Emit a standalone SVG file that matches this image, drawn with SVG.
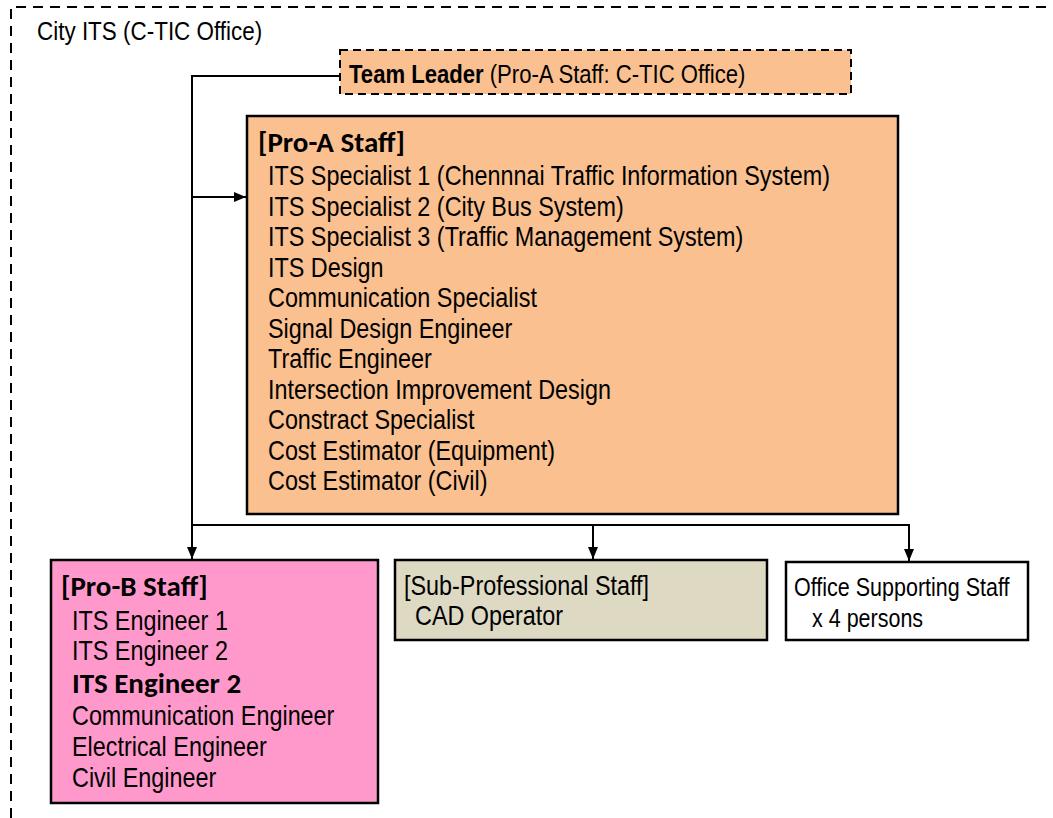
<svg xmlns="http://www.w3.org/2000/svg" width="1053" height="818" viewBox="0 0 1053 818">
<style>
.t{font-family:"Liberation Sans",Arial,sans-serif;fill:#000;font-size:27.5px}
.b{font-weight:bold}
.c{font-family:Carlito,"Open Sans","Liberation Sans",sans-serif;font-weight:bold;fill:#000;font-size:29px}
.box{stroke:#000;stroke-width:2.5}
.ln{fill:none;stroke:#000;stroke-width:2}
</style>
<defs>
<marker id="ah" markerUnits="userSpaceOnUse" markerWidth="12" markerHeight="10" refX="12" refY="5" orient="auto">
<path d="M0,0 L12,5 L0,10 z" fill="#000"/>
</marker>
</defs>
<rect width="1053" height="818" fill="#fff"/>
<g id="frame">
<path d="M11,818 L11,7 L1053,7" fill="none" stroke="#000" stroke-width="2" stroke-dasharray="10 7"/>
<text class="t" transform="translate(37,40) scale(0.85,1)" style="font-size:26.4px">City ITS (C-TIC Office)</text>
</g>
<g id="connectors">
<path class="ln" d="M340,76 L192,76 L192,559" marker-end="url(#ah)"/>
<path class="ln" d="M192,197 L246,197" marker-end="url(#ah)"/>
<path class="ln" d="M192,525 L909,525 L909,561" marker-end="url(#ah)"/>
<path class="ln" d="M593,525 L593,559" marker-end="url(#ah)"/>
</g>
<g id="team-leader">
<rect x="340" y="50" width="511" height="44" fill="#FAC090" stroke="#000" stroke-width="2" stroke-dasharray="8 5"/>
<text class="t" transform="translate(349,83) scale(0.85,1)" style="font-size:26px"><tspan class="b">Team Leader</tspan> (Pro-A Staff: C-TIC Office)</text>
</g>
<g id="pro-a">
<rect class="box" x="247" y="116" width="651" height="398" fill="#FAC090"/>
<text class="c" x="258" y="152">[Pro-A Staff]</text>
<text class="t" transform="translate(268,185) scale(0.85,1)">ITS Specialist 1 (Chennnai Traffic Information System)</text>
<text class="t" transform="translate(268,215.5) scale(0.85,1)">ITS Specialist 2 (City Bus System)</text>
<text class="t" transform="translate(268,246) scale(0.85,1)">ITS Specialist 3 (Traffic Management System)</text>
<text class="t" transform="translate(268,276.5) scale(0.85,1)">ITS Design</text>
<text class="t" transform="translate(268,307) scale(0.85,1)">Communication Specialist</text>
<text class="t" transform="translate(268,337.5) scale(0.85,1)">Signal Design Engineer</text>
<text class="t" transform="translate(268,368) scale(0.85,1)">Traffic Engineer</text>
<text class="t" transform="translate(268,398.5) scale(0.85,1)">Intersection Improvement Design</text>
<text class="t" transform="translate(268,429) scale(0.85,1)">Constract Specialist</text>
<text class="t" transform="translate(268,459.5) scale(0.85,1)">Cost Estimator (Equipment)</text>
<text class="t" transform="translate(268,490) scale(0.85,1)">Cost Estimator (Civil)</text>
</g>
<g id="pro-b">
<rect class="box" x="51" y="560" width="327" height="243" fill="#FF99CC"/>
<text class="c" x="61" y="596">[Pro-B Staff]</text>
<text class="t" transform="translate(72,630) scale(0.85,1)">ITS Engineer 1</text>
<text class="t" transform="translate(72,660) scale(0.85,1)">ITS Engineer 2</text>
<text class="c" x="72" y="693">ITS Engineer 2</text>
<text class="t" transform="translate(72,725) scale(0.85,1)">Communication Engineer</text>
<text class="t" transform="translate(72,756) scale(0.85,1)">Electrical Engineer</text>
<text class="t" transform="translate(72,787) scale(0.85,1)">Civil Engineer</text>
</g>
<g id="sub-professional">
<rect class="box" x="395" y="560" width="372" height="80" fill="#DDD9C3"/>
<text class="t" transform="translate(404,595) scale(0.85,1)">[Sub-Professional Staff]</text>
<text class="t" transform="translate(415,625) scale(0.85,1)">CAD Operator</text>
</g>
<g id="office-support">
<rect class="box" x="786" y="562" width="242" height="78" fill="#fff"/>
<text class="t" transform="translate(794,596) scale(0.85,1)" style="font-size:25.3px">Office Supporting Staff</text>
<text class="t" transform="translate(812,627) scale(0.85,1)" style="font-size:25.3px">x 4 persons</text>
</g>
</svg>
